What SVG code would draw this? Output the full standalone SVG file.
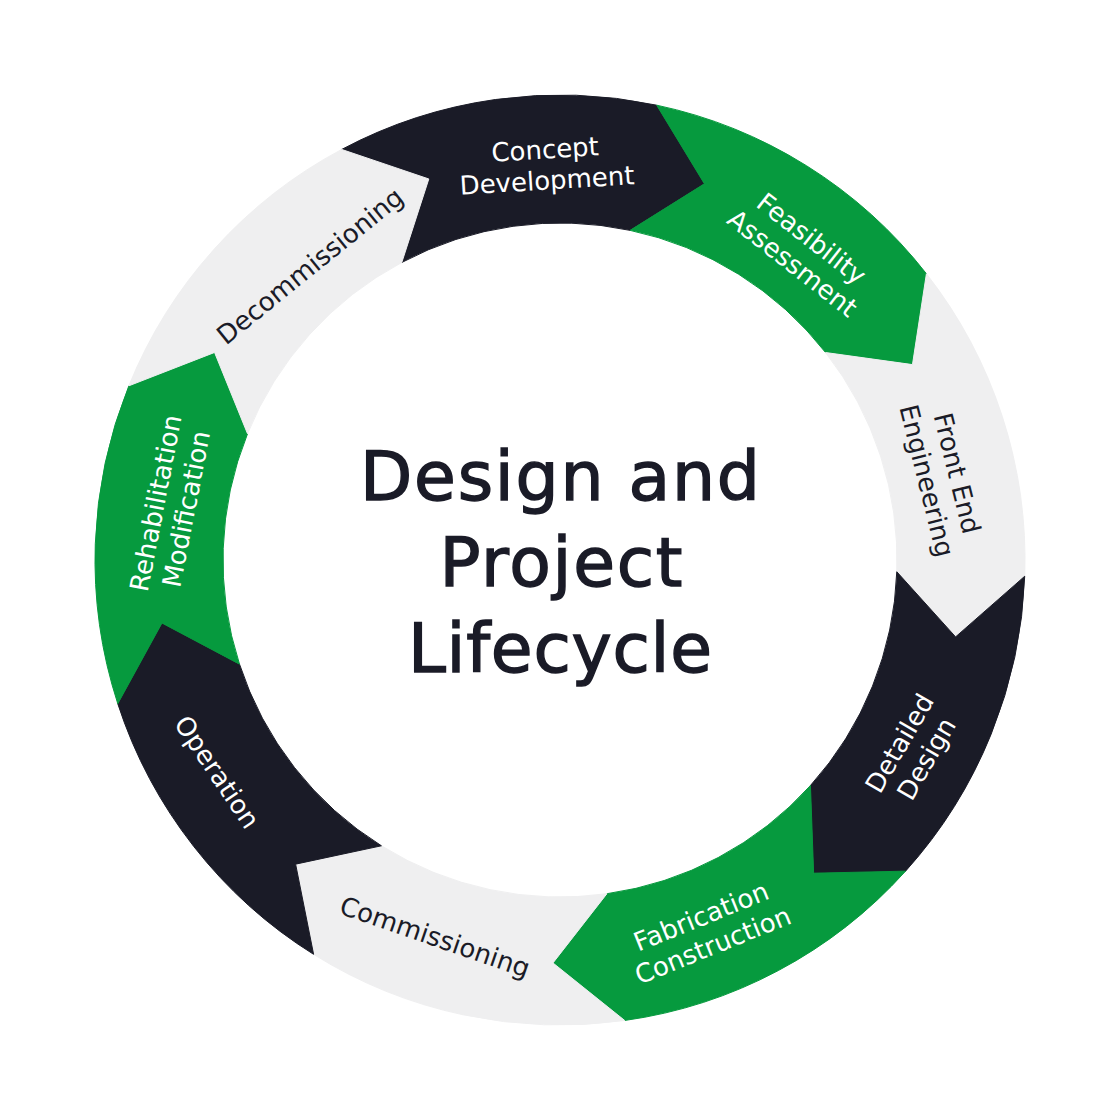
<svg xmlns="http://www.w3.org/2000/svg" width="1120" height="1120" viewBox="0 0 1120 1120">
<style>
.dark{fill:#1a1b27;stroke:#1a1b27;stroke-width:1}
.green{fill:#069a3e;stroke:#069a3e;stroke-width:1}
.gray{fill:#efeff0;stroke:#efeff0;stroke-width:1}
.lbl{font-family:"DejaVu Sans","Liberation Sans",sans-serif;font-size:26px;text-anchor:middle}
.lw{fill:#ffffff}
.ld{fill:#1a1b27}
.title{font-family:"DejaVu Sans","Liberation Sans",sans-serif;font-size:68px;text-anchor:middle;fill:#1a1b27;stroke:#1a1b27;stroke-width:1.4}
</style>
<rect width="1120" height="1120" fill="#ffffff"/>
<g id="segments">
<g id="concept">
<path class="dark" d="M 341.70 149.43 A 465 465 0 0 1 656.68 105.16 L 704.42 183.77 L 630.07 230.36 A 337 337 0 0 0 401.79 262.45 L 428.80 178.96 Z"/>
<text class="lbl lw" transform="translate(546,165) rotate(-3.5)"><tspan x="0" y="-6.5">Concept</tspan><tspan x="0" y="24.5">Development</tspan></text>
</g>
<g id="feasibility">
<path class="green" d="M 656.68 105.16 A 465 465 0 0 1 926.42 273.72 L 912.47 364.62 L 825.56 352.52 A 337 337 0 0 0 630.07 230.36 L 704.42 183.77 Z"/>
<text class="lbl lw" transform="translate(802,251) rotate(38)"><tspan x="0" y="-6.5">Feasibility</tspan><tspan x="0" y="24.5">Assessment</tspan></text>
</g>
<g id="frontend">
<path class="gray" d="M 926.42 273.72 A 465 465 0 0 1 1024.72 576.23 L 955.60 636.90 L 896.79 571.76 A 337 337 0 0 0 825.56 352.52 L 912.47 364.62 Z"/>
<text class="lbl ld" transform="translate(942,477) rotate(76)"><tspan x="0" y="-6.5">Front End</tspan><tspan x="0" y="24.5">Engineering</tspan></text>
</g>
<g id="detailed">
<path class="dark" d="M 1024.72 576.23 A 465 465 0 0 1 905.56 871.15 L 813.62 873.19 L 810.44 785.50 A 337 337 0 0 0 896.79 571.76 L 955.60 636.90 Z"/>
<text class="lbl lw" transform="translate(913,751) rotate(-60)"><tspan x="0" y="-6.5">Detailed</tspan><tspan x="0" y="24.5">Design</tspan></text>
</g>
<g id="fabrication">
<path class="green" d="M 905.56 871.15 A 465 465 0 0 1 624.71 1020.48 L 552.97 962.94 L 606.90 893.72 A 337 337 0 0 0 810.44 785.50 L 813.62 873.19 Z"/>
<text class="lbl lw" transform="translate(707,931) rotate(-22)"><tspan x="0" y="-6.5">Fabrication</tspan><tspan x="0" y="24.5">Construction</tspan></text>
</g>
<g id="commissioning">
<path class="gray" d="M 624.71 1020.48 A 465 465 0 0 1 313.59 954.34 L 295.61 864.15 L 381.42 845.79 A 337 337 0 0 0 606.90 893.72 L 552.97 962.94 Z"/>
<text class="lbl ld" transform="translate(435,937) rotate(19)"><tspan x="0" y="9">Commissioning</tspan></text>
</g>
<g id="operation">
<path class="dark" d="M 313.59 954.34 A 465 465 0 0 1 117.76 703.69 L 161.96 623.04 L 239.49 664.14 A 337 337 0 0 0 381.42 845.79 L 295.61 864.15 Z"/>
<text class="lbl lw" transform="translate(217,772) rotate(56)"><tspan x="0" y="9">Operation</tspan></text>
</g>
<g id="rehabilitation">
<path class="green" d="M 117.76 703.69 A 465 465 0 0 1 128.86 385.81 L 214.56 352.44 L 247.54 433.76 A 337 337 0 0 0 239.49 664.14 L 161.96 623.04 Z"/>
<text class="lbl lw" transform="translate(171,506) rotate(-79)"><tspan x="0" y="-6.5">Rehabilitation</tspan><tspan x="0" y="24.5">Modification</tspan></text>
</g>
<g id="decommissioning">
<path class="gray" d="M 128.86 385.81 A 465 465 0 0 1 341.70 149.43 L 428.80 178.96 L 401.79 262.45 A 337 337 0 0 0 247.54 433.76 L 214.56 352.44 Z"/>
<text class="lbl ld" transform="translate(310,266) rotate(-39)"><tspan x="0" y="9">Decommissioning</tspan></text>
</g>
</g>
<g id="connectors"></g>
<g id="title">
<text class="title" x="560" y="500" textLength="400" lengthAdjust="spacing">Design and</text>
<text class="title" x="561" y="586" textLength="243" lengthAdjust="spacing">Project</text>
<text class="title" x="560" y="672" textLength="304" lengthAdjust="spacing">Lifecycle</text>
</g>
</svg>
